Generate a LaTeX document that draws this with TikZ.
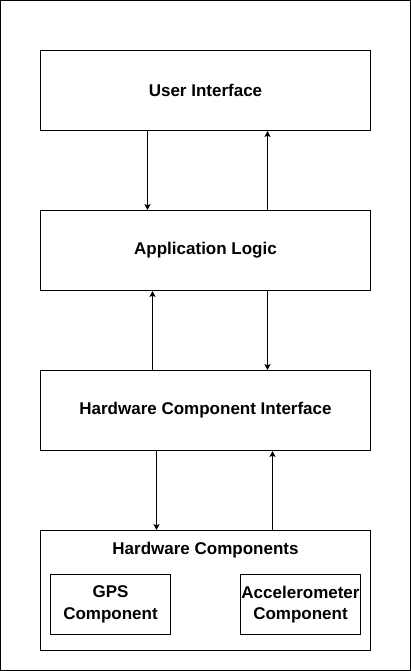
\documentclass[tikz,border=0pt]{standalone}
\usepackage{fontspec}
\setmainfont{Liberation Sans}
\usetikzlibrary{arrows.meta}
\begin{document}
\begin{tikzpicture}[x=1pt,y=-1pt,
  box/.style={draw=black,line width=1pt,inner sep=0pt,font=\fontsize{17}{21.5}\selectfont\bfseries,align=center},
  arr/.style={line width=1pt,-{Stealth[length=6pt,width=6pt,inset=1.5pt]}},
  lbl/.style={font=\fontsize{17}{21.5}\selectfont\bfseries,align=center,inner sep=0pt}]
\useasboundingbox (0,0) rectangle (411,671);
\draw[line width=1pt] (0.5,0.5) rectangle (410.5,670.5);
\node[box,minimum width=330pt,minimum height=80pt] (ui) at (205.5,90.5) {User Interface};
\node[box,minimum width=330pt,minimum height=80pt] (al) at (205.5,250.5) {Application Logic};
\node[box,minimum width=330pt,minimum height=80pt] (hci) at (205.5,410.5) {Hardware Component Interface};
\node[box,minimum width=330pt,minimum height=120pt] (hc) at (205.5,590.5) {};
\node[lbl] (hcl) at (205.5,550.5) {Hardware Components};
\node[box,minimum width=120pt,minimum height=60pt] (gps) at (110.5,604.5) {GPS\\Component};
\node[box,minimum width=120pt,minimum height=60pt] (acc) at (300.5,604.5) {Accelerometer\\Component};
\draw[arr] (ui.south -| 147.5,0) -- (al.north -| 147.5,0);
\draw[arr] (al.north -| 267.5,0) -- (ui.south -| 267.5,0);
\draw[arr] (hci.north -| 152.5,0) -- (al.south -| 152.5,0);
\draw[arr] (al.south -| 267.5,0) -- (hci.north -| 267.5,0);
\draw[arr] (hci.south -| 156.5,0) -- (hc.north -| 156.5,0);
\draw[arr] (hc.north -| 272.5,0) -- (hci.south -| 272.5,0);
\end{tikzpicture}
\end{document}
